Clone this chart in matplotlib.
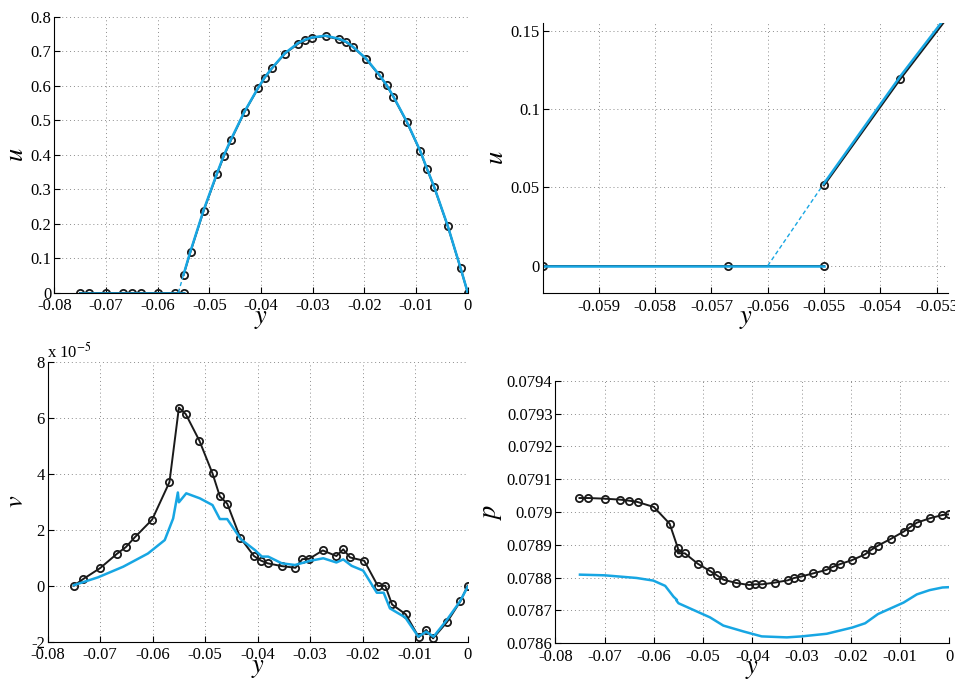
import numpy as np
import matplotlib
matplotlib.use("Agg")
import matplotlib.pyplot as plt
from matplotlib.ticker import FormatStrFormatter

plt.rcParams["font.family"] = ["Liberation Serif", "DejaVu Serif"]
plt.rcParams["mathtext.fontset"] = "stix"

BLACK = "#1a1a1a"
BLUE = "#17a6e3"

# ---- u profile (coarse = black circles, fine = blue line) ----
y_zero = [-0.0750, -0.0733, -0.0700, -0.0668, -0.0650, -0.0633, -0.0600, -0.0567, -0.0550]
u_zero = [0, 0, 0, 0, 0, 0, 0, 0, 0]

y_in = [-0.0550, -0.05364, -0.0511, -0.0485, -0.0472, -0.0458, -0.0432, -0.0406, -0.0393,
        -0.0379, -0.0354, -0.0328, -0.0314, -0.0301, -0.0275, -0.0249, -0.0235, -0.0223,
        -0.0197, -0.0171, -0.0157, -0.0144, -0.0118, -0.0092, -0.0079, -0.0065, -0.0039,
        -0.0014, 0.0]
u_black = [0.0512, 0.1192, 0.238, 0.345, 0.396, 0.443, 0.524, 0.592, 0.623, 0.650, 0.693,
           0.722, 0.732, 0.739, 0.744, 0.734, 0.726, 0.713, 0.678, 0.630, 0.601, 0.568,
           0.495, 0.410, 0.359, 0.306, 0.194, 0.0715, 0.0]
u_blue = [0.0525, 0.1210, 0.240, 0.347, 0.398, 0.445, 0.525, 0.593, 0.624, 0.651, 0.694,
          0.724, 0.734, 0.740, 0.745, 0.736, 0.727, 0.714, 0.679, 0.631, 0.602, 0.569,
          0.496, 0.411, 0.360, 0.307, 0.195, 0.072, 0.0]

y_blue_zero = [-0.0750, -0.0550]
u_blue_zero = [0, 0]
y_blue_dash = [-0.0560, -0.0550]
u_blue_dash = [0, 0.0525]

# ---- v profile (units of 1e-5) ----
y_v = [-0.0750, -0.0733, -0.0700, -0.0668, -0.0651, -0.0634, -0.0601, -0.0568, -0.0550,
       -0.0537, -0.0511, -0.0486, -0.0472, -0.0458, -0.0433, -0.0407, -0.0394, -0.0381,
       -0.0354, -0.0328, -0.0315, -0.0302, -0.0276, -0.0250, -0.0237, -0.0224, -0.0197,
       -0.0171, -0.0157, -0.0144, -0.0118, -0.0093, -0.0079, -0.0066, -0.0039, -0.0014, 0.0]
v_black = [0.0, 0.23, 0.63, 1.14, 1.38, 1.73, 2.36, 3.70, 6.36, 6.13, 5.18, 4.01, 3.19,
           2.93, 1.71, 1.06, 0.90, 0.80, 0.70, 0.64, 0.95, 0.96, 1.26, 1.06, 1.30, 1.01,
           0.89, -0.01, 0.00, -0.67, -1.02, -1.84, -1.58, -1.88, -1.29, -0.56, 0.0]

y_v_fine = [-0.0750, -0.0704, -0.0656, -0.0609, -0.0577, -0.0561, -0.0552, -0.0550,
            -0.0536, -0.0510, -0.0486, -0.0472, -0.0458, -0.0432, -0.0405, -0.0392,
            -0.0380, -0.0354, -0.0329, -0.0300, -0.0275, -0.0250, -0.0237, -0.0221,
            -0.0199, -0.0173, -0.0160, -0.0148, -0.0119, -0.0094, -0.0079, -0.0065,
            -0.0040, -0.0015, 0.0]
v_blue = [0.02, 0.30, 0.68, 1.15, 1.63, 2.40, 3.33, 2.98, 3.30, 3.12, 2.88, 2.38, 2.38,
          1.66, 1.27, 1.04, 1.04, 0.80, 0.74, 0.89, 0.98, 0.83, 0.94, 0.71, 0.54, -0.25,
          -0.25, -0.81, -1.13, -1.82, -1.64, -1.82, -1.23, -0.57, -0.04]
V_SCALE = "x 10$^{-5}$"

# ---- p profile ----
y_p = [-0.0751, -0.0733, -0.0700, -0.0668, -0.0650, -0.0633, -0.0600, -0.0568, -0.0551,
       -0.0551, -0.0537, -0.0511, -0.0485, -0.0472, -0.0459, -0.0433, -0.0407, -0.0394,
       -0.0380, -0.0355, -0.0328, -0.0315, -0.0302, -0.0276, -0.0250, -0.0237, -0.0223,
       -0.0197, -0.0171, -0.0158, -0.0145, -0.0118, -0.0093, -0.0079, -0.0066, -0.0040,
       -0.0014, 0.0]
p_black = [0.0790426, 0.0790426, 0.0790406, 0.0790376, 0.0790345, 0.0790305, 0.0790152,
           0.0789645, 0.0788893, 0.0788741, 0.0788741, 0.0788426, 0.0788193, 0.0788071,
           0.0787939, 0.0787838, 0.0787777, 0.0787797, 0.0787797, 0.0787848, 0.0787919,
           0.0787990, 0.0788030, 0.0788132, 0.0788234, 0.0788325, 0.0788406, 0.0788538,
           0.0788711, 0.0788853, 0.0788975, 0.0789188, 0.0789401, 0.0789543, 0.0789675,
           0.0789807, 0.0789909, 0.0789929]

y_p_fine = [-0.0750, -0.0700, -0.0635, -0.0601, -0.0577, -0.0560, -0.0553, -0.0554,
            -0.0550, -0.0486, -0.0459, -0.0418, -0.0381, -0.0330, -0.0300, -0.0249,
            -0.0197, -0.0171, -0.0145, -0.0093, -0.0066, -0.0040, -0.0014, 0.0]
p_blue = [0.0788091, 0.0788071, 0.0787990, 0.0787910, 0.0787750, 0.0787420, 0.0787320,
          0.0787300, 0.0787220, 0.0786790, 0.0786540, 0.0786360, 0.0786210, 0.0786180,
          0.0786210, 0.0786290, 0.0786480, 0.0786610, 0.0786890, 0.0787240, 0.0787490,
          0.0787620, 0.0787700, 0.0787710]

x_ticks_full = [-0.08, -0.07, -0.06, -0.05, -0.04, -0.03, -0.02, -0.01, 0]
x_ticks_zoom = [-0.059, -0.058, -0.057, -0.056, -0.055, -0.054, -0.053]
u_ticks = [0, 0.1, 0.2, 0.3, 0.4, 0.5, 0.6, 0.7, 0.8]
u_ticks_zoom = [0, 0.05, 0.1, 0.15]
v_ticks = [-2, 0, 2, 4, 6, 8]
p_ticks = [0.0786, 0.0787, 0.0788, 0.0789, 0.079, 0.0791, 0.0792, 0.0793, 0.0794]


def style_axes(ax):
    for side in ("top", "right"):
        ax.spines[side].set_visible(False)
    ax.grid(True, linestyle=(0, (1, 3)), color="#8c8c8c", linewidth=0.7)
    ax.tick_params(direction="in", length=4, width=0.8, labelsize=12, top=False, right=False)
    ax.tick_params(axis="y", pad=2)
    ax.tick_params(axis="x", pad=4)
    ax.set_axisbelow(True)


def coarse(ax, x, y):
    ax.plot(x, y, "-o", color=BLACK, lw=1.4, ms=5.2, mfc="none", mec=BLACK, mew=1.3)


fig = plt.figure(figsize=(9.55, 6.79), dpi=100)

# top left: u over whole channel
ax1 = fig.add_axes([0.0569, 0.5689, 0.4329, 0.4065])
coarse(ax1, y_zero, u_zero)
coarse(ax1, y_in, u_black)
ax1.plot(y_blue_zero, u_blue_zero, color=BLUE, lw=1.8)
ax1.plot(y_blue_dash, u_blue_dash, color=BLUE, lw=1.0, ls=(0, (3, 2)))
ax1.plot(y_in, u_blue, color=BLUE, lw=1.8)
ax1.set_xlim(-0.08, 0)
ax1.set_ylim(0, 0.8)
ax1.set_xticks(x_ticks_full)
ax1.set_yticks(u_ticks)

# top right: zoom near the interface
ax2 = fig.add_axes([0.5683, 0.5680, 0.4247, 0.3985])
coarse(ax2, y_zero, u_zero)
coarse(ax2, y_in, u_black)
ax2.plot(y_blue_zero, u_blue_zero, color=BLUE, lw=1.8)
ax2.plot(y_blue_dash, u_blue_dash, color=BLUE, lw=1.0, ls=(0, (3, 2)))
ax2.plot(y_in, u_blue, color=BLUE, lw=1.8)
ax2.set_xlim(-0.06, -0.05279)
ax2.set_ylim(-0.0176, 0.155)
ax2.set_xticks(x_ticks_zoom)
ax2.set_yticks(u_ticks_zoom)

# bottom left: v
ax3 = fig.add_axes([0.0499, 0.0549, 0.4398, 0.4124])
coarse(ax3, y_v, v_black)
ax3.plot(y_v_fine, v_blue, color=BLUE, lw=1.8)
ax3.set_xlim(-0.08, 0)
ax3.set_ylim(-2, 8)
ax3.set_xticks(x_ticks_full)
ax3.set_yticks(v_ticks)
ax3.text(-0.002, 1.0, V_SCALE, transform=ax3.transAxes, fontsize=12,
         ha="left", va="bottom")

# bottom right: p
ax4 = fig.add_axes([0.5815, 0.0526, 0.4126, 0.3867])
coarse(ax4, y_p, p_black)
ax4.plot(y_p_fine, p_blue, color=BLUE, lw=1.8)
ax4.set_xlim(-0.08, 0)
ax4.set_ylim(0.0786, 0.0794)
ax4.set_xticks(x_ticks_full)
ax4.set_yticks(p_ticks)

for ax, lab in ((ax1, "u"), (ax2, "u"), (ax3, "v"), (ax4, "p")):
    style_axes(ax)
    ax.xaxis.set_major_formatter(FormatStrFormatter("%g"))
    ax.yaxis.set_major_formatter(FormatStrFormatter("%g"))
    ax.set_xlabel("$y$", fontsize=19, labelpad=-4)
    ax.set_ylabel("$" + lab + "$", fontsize=19, labelpad=2)

fig.savefig("out.png", dpi=100)
